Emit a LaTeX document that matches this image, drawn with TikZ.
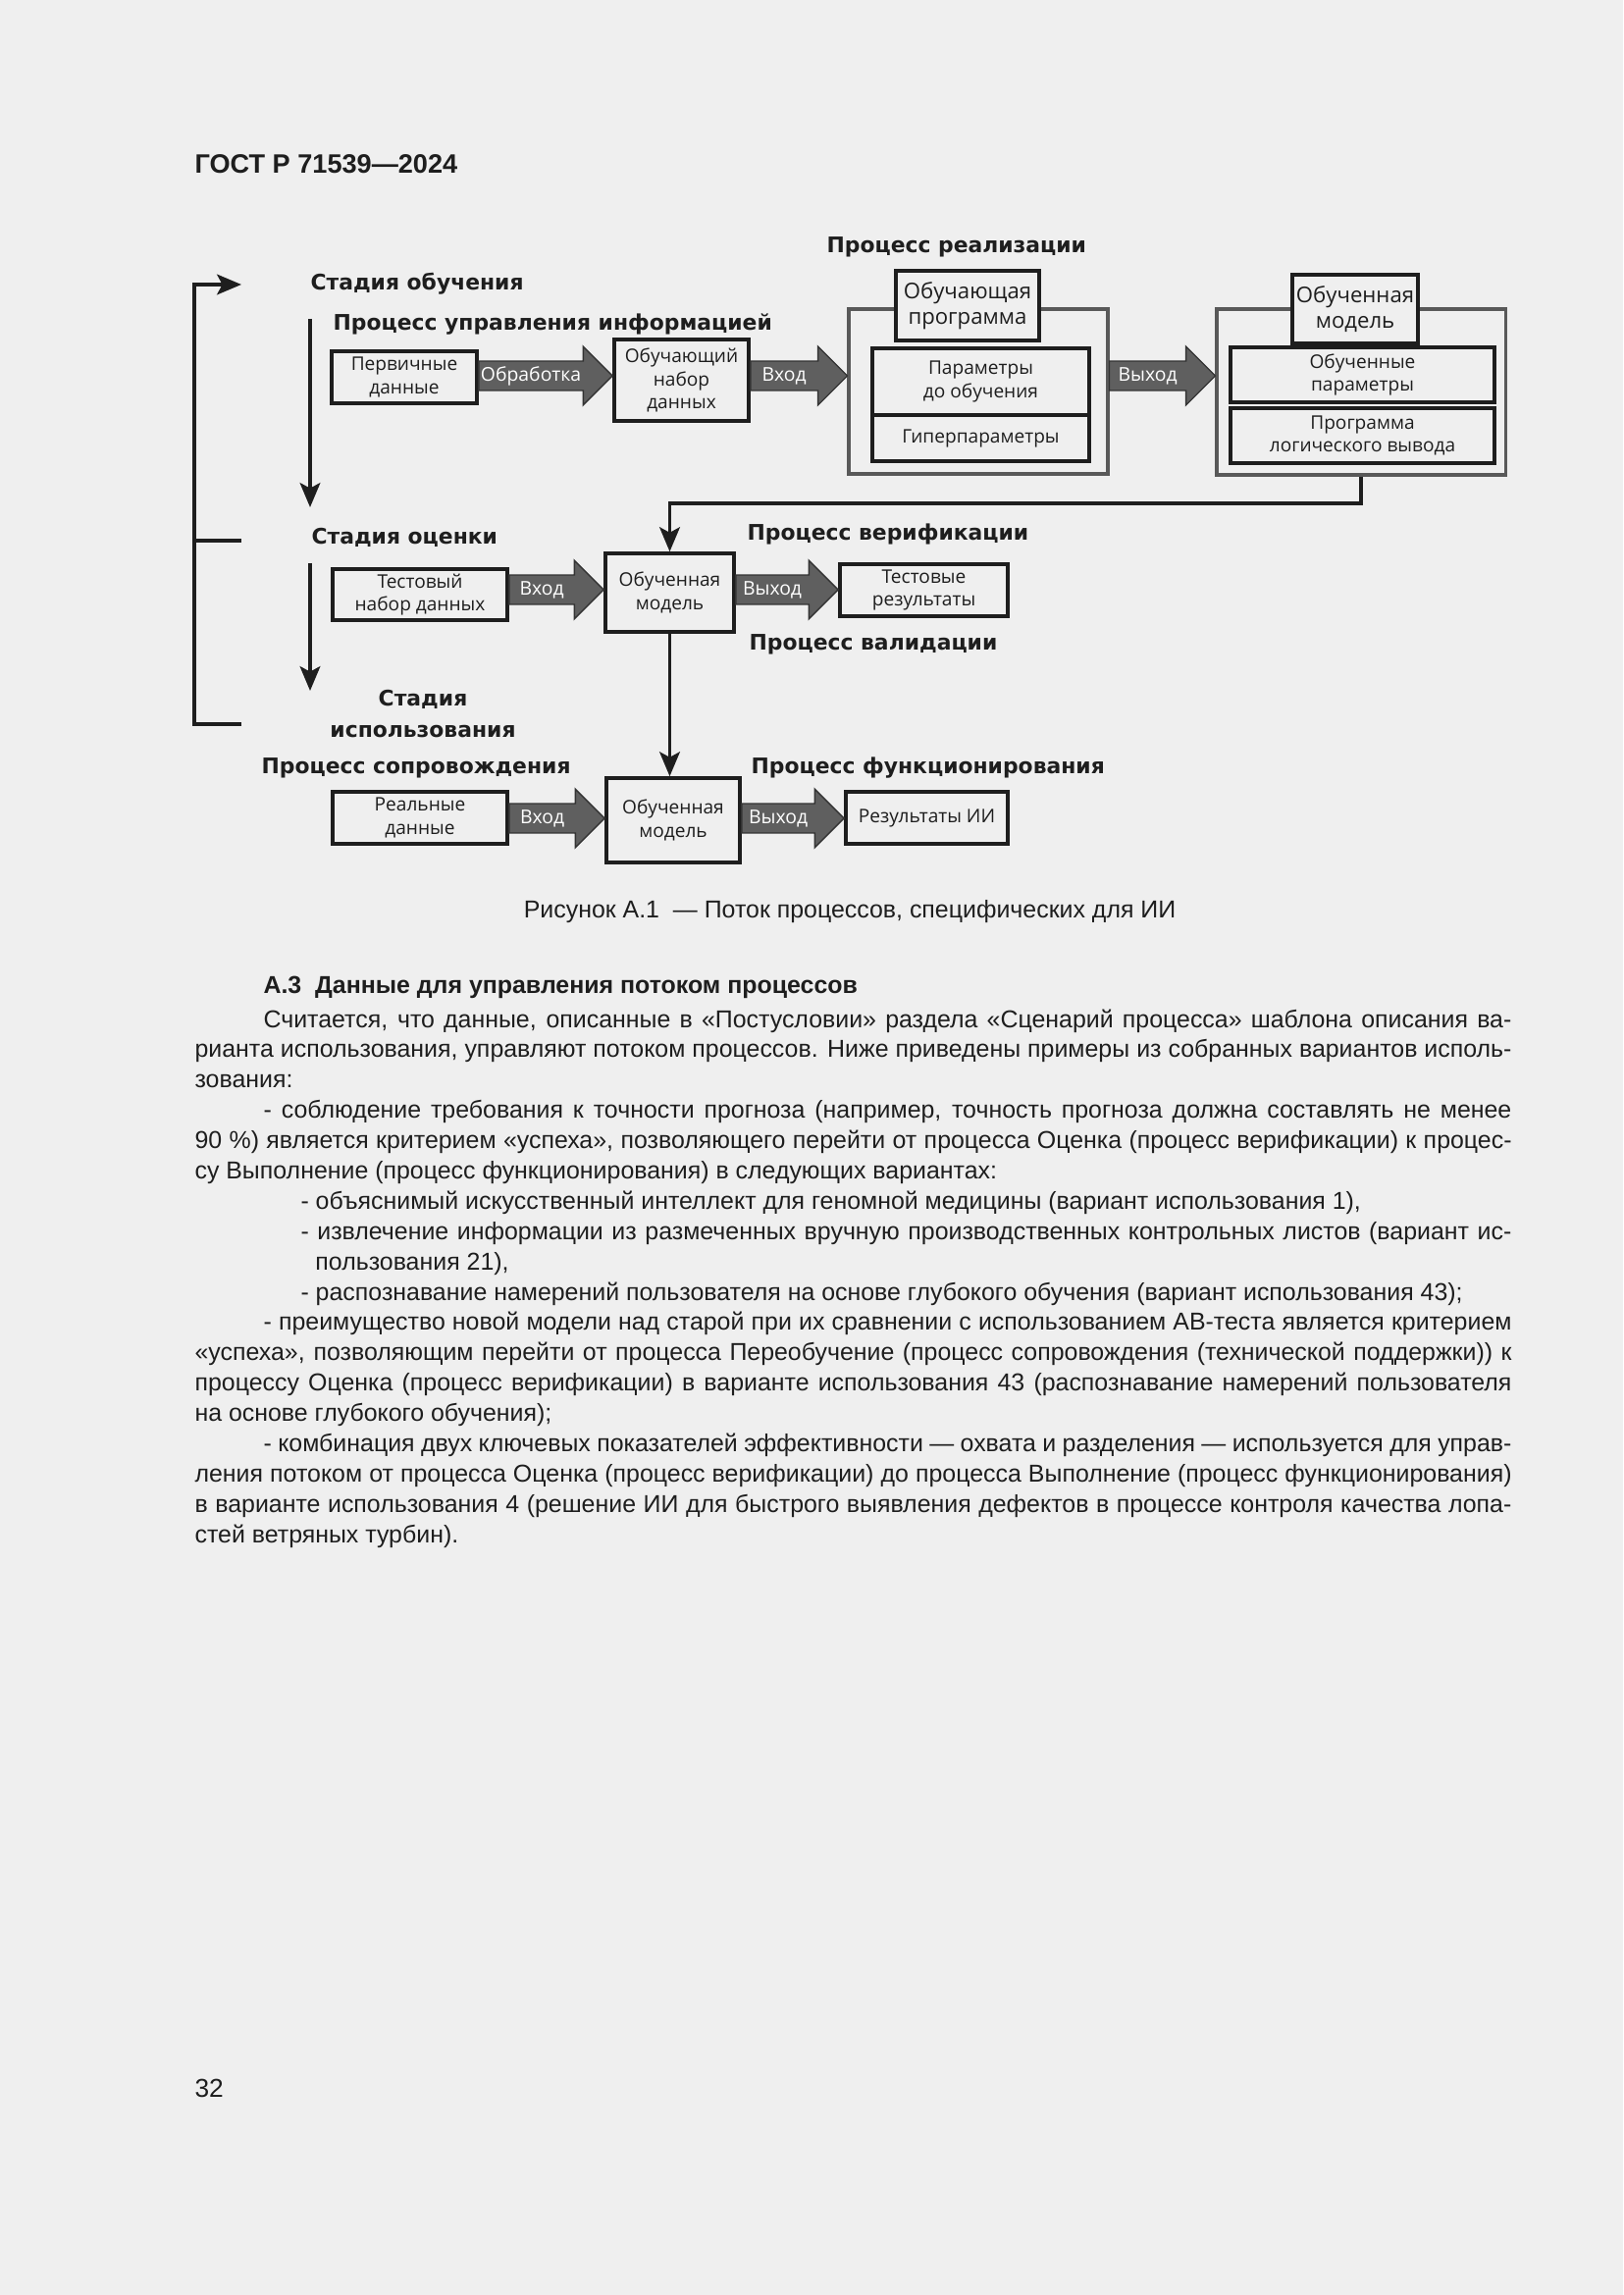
\documentclass[tikz,border=0pt]{standalone}
\usepackage{fontspec}
\setmainfont{Liberation Sans}
\newfontfamily\kastenfont{Open Sans}
\newfontfamily\stufenfont{DejaVu Sans}
\usetikzlibrary{calc}
\usetikzlibrary{arrows.meta}
\definecolor{papier}{RGB}{239,239,239}
\definecolor{tinte}{RGB}{30,30,30}
\definecolor{pfeilgrau}{RGB}{95,95,95}

% grosser Blockpfeil: von, nach, Hoehe, Beschriftung
\newcommand{\blockpile}[4]{%
  \path[block] let \p1=(#1.east |- 0,#3), \p2=(#2.west |- 0,#3) in
    (\x1,\y1+5.4pt) -- (\x2-10.8pt,\y1+5.4pt) -- (\x2-10.8pt,\y1+10.8pt) -- (\x2,\y1)
    -- (\x2-10.8pt,\y1-10.8pt) -- (\x2-10.8pt,\y1-5.4pt) -- (\x1,\y1-5.4pt) -- cycle;
  \path let \p1=(#1.east |- 0,#3), \p2=(#2.west |- 0,#3) in
    node[blocktext] at ({0.5*\x1+0.5*\x2-5.4pt},\y1) {#4};
}

\begin{document}
\begin{tikzpicture}[x=0.3612pt, y=-0.3612pt,
text=tinte,
knoten/.style={
  draw=tinte,
  line width=1.3pt,
  inner sep=0pt,
  align=center,
  font=\kastenfont\fontsize{6.9}{8.6}\selectfont
},
titel/.style={
  knoten,
  fill=papier,
  font=\kastenfont\fontsize{8}{9.6}\selectfont
},
huelle/.style={
  draw=black!65,
  line width=1.1pt,
  inner sep=0pt
},
groesse/.style 2 args={
  minimum width=#1*0.3612pt,
  minimum height=#2*0.3612pt
},
pile/.style={
  draw=tinte,
  line width=1.2pt,
  -{Stealth[length=9pt, width=7.5pt, inset=2pt]}
},
linie/.style={
  draw=tinte,
  line width=1.2pt
},
block/.style={
  fill=pfeilgrau,
  draw=black!80,
  line width=0.5pt
},
blocktext/.style={
  text=white,
  inner sep=0pt,
  font=\kastenfont\fontsize{7}{8}\selectfont
},
stufe/.style={
  inner sep=0pt,
  anchor=base west,
  font=\stufenfont\bfseries\fontsize{7.9}{11.2}\selectfont
},
fliesstext/.style={
  inner sep=0pt,
  text width=484.7pt,
  align=justify,
  font=\fontsize{9}{11.16}\selectfont
}]
\useasboundingbox (0,0) rectangle (1654,2339);
\fill[papier] (0,0) rectangle (1654,2339);

\node[inner sep=0pt, anchor=base west, font=\bfseries\fontsize{9.8}{12}\selectfont] (KOPF) at (198,177) {ГОСТ Р 71539—2024};

% Stadien und Prozesse
\node[stufe] (SO) at (316,296) {Стадия обучения};
\node[stufe] (PUI) at (339,337) {Процесс управления информацией};
\node[stufe] (PR) at (842,258) {Процесс реализации};
\node[stufe] (SOC) at (317,555) {Стадия оценки};
\node[stufe] (PVE) at (761,551) {Процесс верификации};
\node[stufe] (PVA) at (763,663) {Процесс валидации};
\node[stufe, anchor=base, align=center] (SI) at (431,751) {Стадия\\использования};
\node[stufe] (PS) at (266,788) {Процесс сопровождения};
\node[stufe] (PF) at (765,788) {Процесс функционирования};

% Stadie Training
\node[knoten, groesse={148}{53}] (PD) at (412,384.5) {Первичные\\данные};
\node[knoten, groesse={137}{83}] (OND) at (694.5,387.5) {Обучающий\\набор\\данных};
\node[huelle, groesse={264}{168}] (RP) at (997,399) {};
\node[titel, groesse={146}{71}] (OP) at (986,311.5) {Обучающая\\программа};
\node[knoten, groesse={221}{68}] (PO) at (999.5,389) {Параметры\\до обучения};
\node[knoten, groesse={221}{47}] (HP) at (999.5,446.5) {Гиперпараметры};
\node[huelle, groesse={294}{169}] (OMH) at (1387,399.5) {};
\node[titel, groesse={128}{70}] (OM) at (1381,315) {Обученная\\модель};
\node[knoten, groesse={269}{56}] (OPA) at (1388.5,382) {Обученные\\параметры};
\node[knoten, groesse={269}{56}] (PLV) at (1388.5,444) {Программа\\логического вывода};

\blockpile{PD}{OND}{383}{Обработка}
\blockpile{OND}{RP}{383}{Вход}
\blockpile{RP}{OMH}{383}{Выход}

% Stadie Bewertung
\node[knoten, groesse={178}{52}] (TND) at (428,606) {Тестовый\\набор данных};
\node[knoten, groesse={131}{80}] (OMB) at (682.5,604) {Обученная\\модель};
\node[knoten, groesse={171}{53}] (TR) at (941.5,601.5) {Тестовые\\результаты};

\blockpile{TND}{OMB}{601}{Вход}
\blockpile{OMB}{TR}{601}{Выход}

% Stadie Nutzung
\node[knoten, groesse={178}{53}] (RD) at (428,833.5) {Реальные\\данные};
\node[knoten, groesse={136}{86}] (OMC) at (686,836) {Обученная\\модель};
\node[knoten, groesse={165}{53}] (RI) at (944.5,833.5) {Результаты ИИ};

\blockpile{RD}{OMC}{834}{Вход}
\blockpile{OMC}{RI}{834}{Выход}

\draw[pile] (OMH.south) -- (OMH.south |- 0,513) -| (OMB.north);
\draw[pile] (OMB.south) -- (OMB.south |- OMC.north);

% Rueckfuehrung links
\coordinate (R1) at (198,738);
\coordinate (R2) at (198,290);
\coordinate (R3) at (246,290);
\coordinate (R4) at (198,551);
\coordinate (R5) at (246,551);
\coordinate (R6) at (246,738);
\draw[pile] (R6) -- (R1) -- (R2) -- (R3);
\draw[linie] (R4) -- (R5);

\coordinate (A1) at (316,325);
\coordinate (A2) at (316,517);
\coordinate (A3) at (316,574);
\coordinate (A4) at (316,704);
\draw[pile] (A1) -- (A2);
\draw[pile] (A3) -- (A4);

\node[inner sep=0pt, anchor=base, font=\fontsize{9}{11}\selectfont] (BILD) at (866,935) {Рисунок А.1~~— Поток процессов, специфических для ИИ};

\node[inner sep=0pt, anchor=base west, font=\bfseries\fontsize{9}{11}\selectfont] (ABS) at (268,1012) {А.3~~Данные для управления потоком процессов};

\node[fliesstext, anchor=base west] (TEXT) at (198,1047) {\hyphenpenalty=10000 \exhyphenpenalty=10000 \tolerance=10000
\hspace*{25.3pt}Считается, что данные, описанные в «Постусловии» раздела «Сценарий процесса» шаблона описания ва-\linebreak
рианта использования, управляют потоком процессов. Ниже приведены примеры из собранных вариантов исполь-\linebreak
зования:\par
\hspace*{25.3pt}- соблюдение требования к точности прогноза (например, точность прогноза должна составлять не менее\linebreak
90~\%) является критерием «успеха», позволяющего перейти от процесса Оценка (процесс верификации) к процес-\linebreak
су Выполнение (процесс функционирования) в следующих вариантах:\par
{\leftskip=44.4pt
\hspace*{-5.4pt}- объяснимый искусственный интеллект для геномной медицины (вариант использования 1),\par
\hspace*{-5.4pt}- извлечение информации из размеченных вручную производственных контрольных листов (вариант ис-\linebreak
пользования 21),\par
\hspace*{-5.4pt}- распознавание намерений пользователя на основе глубокого обучения (вариант использования 43);\par}
\hspace*{25.3pt}- преимущество новой модели над старой при их сравнении с использованием АВ-теста является критерием\linebreak
«успеха», позволяющим перейти от процесса Переобучение (процесс сопровождения (технической поддержки)) к\linebreak
процессу Оценка (процесс верификации) в варианте использования 43 (распознавание намерений пользователя\linebreak
на основе глубокого обучения);\par
\hspace*{25.3pt}- комбинация двух ключевых показателей эффективности — охвата и разделения — используется для управ-\linebreak
ления потоком от процесса Оценка (процесс верификации) до процесса Выполнение (процесс функционирования)\linebreak
в варианте использования 4 (решение ИИ для быстрого выявления дефектов в процессе контроля качества лопа-\linebreak
стей ветряных турбин).};

\node[inner sep=0pt, anchor=base west, font=\fontsize{9.5}{12}\selectfont] (SEITE) at (198,2137) {32};
\end{tikzpicture}
\end{document}
